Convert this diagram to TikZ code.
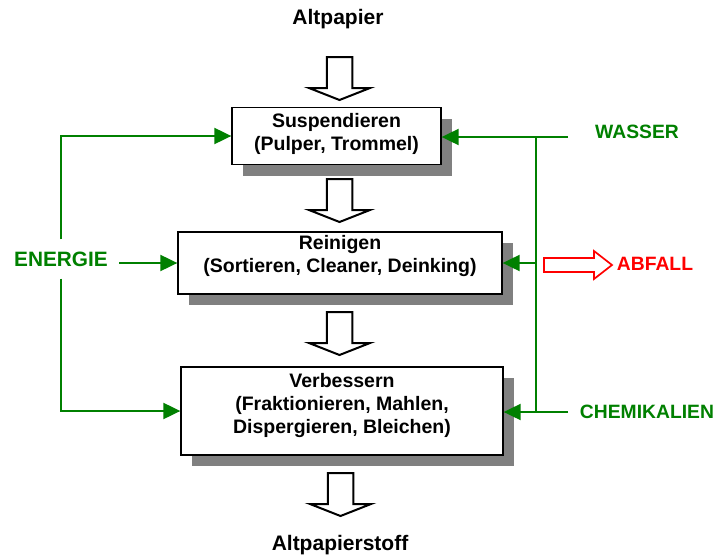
\documentclass[tikz,border=0pt]{standalone}
\usepackage{fontspec}
\setmainfont{Liberation Sans}
\usetikzlibrary{arrows.meta,shadows}
\definecolor{flowgreen}{RGB}{0,128,0}
\definecolor{shadowgray}{RGB}{128,128,128}
\begin{document}
\begin{tikzpicture}[x=1pt,y=-1pt,
  procbox/.style={draw=black, line width=1.3pt, fill=white, inner sep=0pt,
    drop shadow={shadow xshift=10.5pt, shadow yshift=-11pt, fill=shadowgray, opacity=1}},
  boxtext/.style={align=center, font=\fontsize{19.5}{23}\selectfont\bfseries, inner sep=0pt},
  title/.style={font=\fontsize{21}{24}\selectfont\bfseries, inner sep=0pt},
  glabel/.style={text=flowgreen, font=\fontsize{19.3}{22}\selectfont\bfseries},
  gline/.style={draw=flowgreen, line width=2pt},
  garrow/.style={gline, -{Triangle[length=17pt,width=16pt]}},
  blk/.style={draw=black, line width=2pt, fill=white, line join=miter},
  downarrow/.pic={\path[blk] (-12.75,0) -- (12.75,0) -- (12.75,31) -- (30.5,31) -- (0,43) -- (-30.5,31) -- (-12.75,31) -- cycle;}
]
\useasboundingbox (0,0) rectangle (715,557);

% titles
\node[title] (src) at (338,19) {Altpapier};
\node[title] (dst) at (340,545) {Altpapierstoff};

% process boxes
\node[procbox, minimum width=209pt, minimum height=57pt] (b1) at (336.5,136) {};
\node[procbox, minimum width=324pt, minimum height=62pt] (b2) at (340,263) {};
\node[procbox, minimum width=322pt, minimum height=88pt] (b3) at (342,411) {};

\node[boxtext] (t1) at (336.5,134) {Suspendieren\\(Pulper, Trommel)};
\node[boxtext] (t2) at (340,256) {Reinigen\\(Sortieren, Cleaner, Deinking)};
\node[boxtext] (t3) at (342,405.5) {Verbessern\\(Fraktionieren, Mahlen,\\Dispergieren, Bleichen)};

% block arrows
\pic at (339.5,57) {downarrow};
\pic at (339.5,179) {downarrow};
\pic at (339.5,312) {downarrow};
\pic at (340.5,473) {downarrow};

% labels
\node[glabel, font=\fontsize{20.8}{23}\selectfont\bfseries, inner xsep=11pt, inner ysep=12pt] (energie) at (61,259) {ENERGIE};
\node[glabel] (wasser) at (637,132) {WASSER};
\node[glabel] (chem) at (647,412) {CHEMIKALIEN};
\node[text=red, font=\fontsize{19.3}{22}\selectfont\bfseries] (abfall) at (655,264) {ABFALL};

% left side: energy
\draw[garrow] (energie.north) |- (b1.west);
\draw[garrow] (energie.south) |- (b3.west);
\draw[garrow] (energie.east |- b2.west) -- (b2.west);

% right side: water and chemicals
\coordinate (wend) at (568,137);
\coordinate (cend) at (568,412);
\coordinate (jt) at (536,137);
\coordinate (jb) at (536,412);
\draw[gline] (jt) -- (jb);
\draw[garrow] (wend) -- (b1.east |- wend);
\draw[garrow] (cend) -- (b3.east |- cend);
\draw[garrow] (jt |- b2.east) -- (b2.east);

% waste arrow
\draw[draw=red, line width=1.7pt, line join=miter] (544,258) -- (594,258) -- (594,251) -- (612,265) -- (594,279) -- (594,272) -- (544,272) -- cycle;
\end{tikzpicture}
\end{document}
